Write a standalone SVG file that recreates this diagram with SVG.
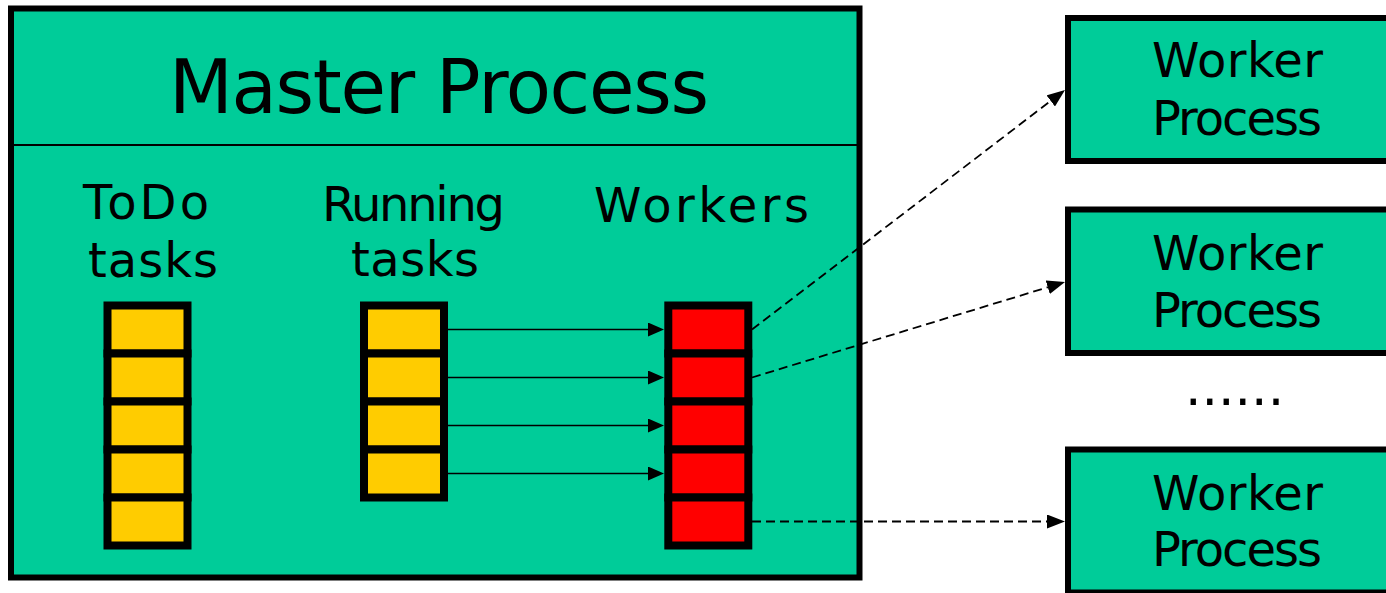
<svg xmlns="http://www.w3.org/2000/svg" width="1386" height="593" viewBox="0 0 1386 593">
  <style>
    .box { fill: #00CC99; stroke: #000; stroke-width: 6; }
    .label { font-family: "DejaVu Sans", "Liberation Sans", sans-serif; fill: #000; font-size: 48px; }
    .title { font-family: "DejaVu Sans", "Liberation Sans", sans-serif; fill: #000; font-size: 74px; }
    .todo { fill: #FFCC00; stroke: #000; stroke-width: 8; }
    .worker-slot { fill: #FF0000; stroke: #000; stroke-width: 8; }
    .link { stroke: #000; stroke-width: 1.6; fill: none; }
    .dispatch { stroke: #000; stroke-width: 1.8; fill: none; stroke-dasharray: 9 5; }
  </style>
  <defs>
    <marker id="head" markerUnits="userSpaceOnUse" markerWidth="16" markerHeight="14" refX="2" refY="7" orient="auto">
      <path d="M0,0 L16,7 L0,14 z" fill="#000"/>
    </marker>
    <marker id="head-dash" markerUnits="userSpaceOnUse" markerWidth="18" markerHeight="14" refX="2" refY="7" orient="auto">
      <path d="M0,0 L18,7 L0,14 z" fill="#000"/>
    </marker>
  </defs>

  <rect width="1386" height="593" fill="#fff"/>

  <!-- master process container -->
  <g id="master">
    <rect class="box" x="11" y="8.5" width="848.5" height="569"/>
    <line x1="14" y1="145" x2="857" y2="145" stroke="#000" stroke-width="2"/>
    <text class="title" x="169" y="113" textLength="540">Master Process</text>
  </g>

  <!-- queue of pending tasks -->
  <g id="todo-tasks">
    <text class="label" x="83" y="219" textLength="126">ToDo</text>
    <text class="label" x="88" y="277" textLength="130">tasks</text>
    <rect class="todo" x="107.5" y="305.5" width="80" height="48"/>
    <rect class="todo" x="107.5" y="353.5" width="80" height="48"/>
    <rect class="todo" x="107.5" y="401.5" width="80" height="48"/>
    <rect class="todo" x="107.5" y="449.5" width="80" height="48"/>
    <rect class="todo" x="107.5" y="497.5" width="80" height="48"/>
  </g>

  <!-- tasks currently assigned -->
  <g id="running-tasks">
    <text class="label" x="322" y="221" textLength="183">Running</text>
    <text class="label" x="351" y="276" textLength="128">tasks</text>
    <rect class="todo" x="364" y="305.5" width="80" height="48"/>
    <rect class="todo" x="364" y="353.5" width="80" height="48"/>
    <rect class="todo" x="364" y="401.5" width="80" height="48"/>
    <rect class="todo" x="364" y="449.5" width="80" height="48"/>
  </g>

  <!-- worker table -->
  <g id="workers">
    <text class="label" x="594" y="222" textLength="215">Workers</text>
    <rect class="worker-slot" x="668.3" y="305.5" width="80" height="48"/>
    <rect class="worker-slot" x="668.3" y="353.5" width="80" height="48"/>
    <rect class="worker-slot" x="668.3" y="401.5" width="80" height="48"/>
    <rect class="worker-slot" x="668.3" y="449.5" width="80" height="48"/>
    <rect class="worker-slot" x="668.3" y="497.5" width="80" height="48"/>
  </g>

  <!-- remote worker processes -->
  <g id="worker-process-1">
    <rect class="box" x="1068" y="18" width="400" height="143"/>
    <text class="label" x="1152" y="77" textLength="171">Worker</text>
    <text class="label" x="1152" y="135" textLength="170">Process</text>
  </g>
  <g id="worker-process-2">
    <rect class="box" x="1068" y="209.5" width="400" height="143.5"/>
    <text class="label" x="1152" y="270" textLength="171">Worker</text>
    <text class="label" x="1152" y="327" textLength="170">Process</text>
  </g>
  <g id="ellipsis">
    <text class="label" x="1185" y="404.5" style="font-size:52px">......</text>
  </g>
  <g id="worker-process-n">
    <rect class="box" x="1068" y="449.5" width="400" height="143"/>
    <text class="label" x="1152" y="510" textLength="171">Worker</text>
    <text class="label" x="1152" y="566" textLength="170">Process</text>
  </g>

  <!-- connectors -->
  <g id="connectors">
    <line class="link" x1="448" y1="329.5" x2="650" y2="329.5" marker-end="url(#head)"/>
    <line class="link" x1="448" y1="377.5" x2="650" y2="377.5" marker-end="url(#head)"/>
    <line class="link" x1="448" y1="425.5" x2="650" y2="425.5" marker-end="url(#head)"/>
    <line class="link" x1="448" y1="473.5" x2="650" y2="473.5" marker-end="url(#head)"/>
    <line class="dispatch" x1="752" y1="329.5" x2="1052.3" y2="99.7" marker-end="url(#head-dash)"/>
    <line class="dispatch" x1="752" y1="377.5" x2="1049.7" y2="286.7" marker-end="url(#head-dash)"/>
    <line class="dispatch" x1="752" y1="521.5" x2="1049" y2="521.5" marker-end="url(#head-dash)"/>
  </g>
</svg>
